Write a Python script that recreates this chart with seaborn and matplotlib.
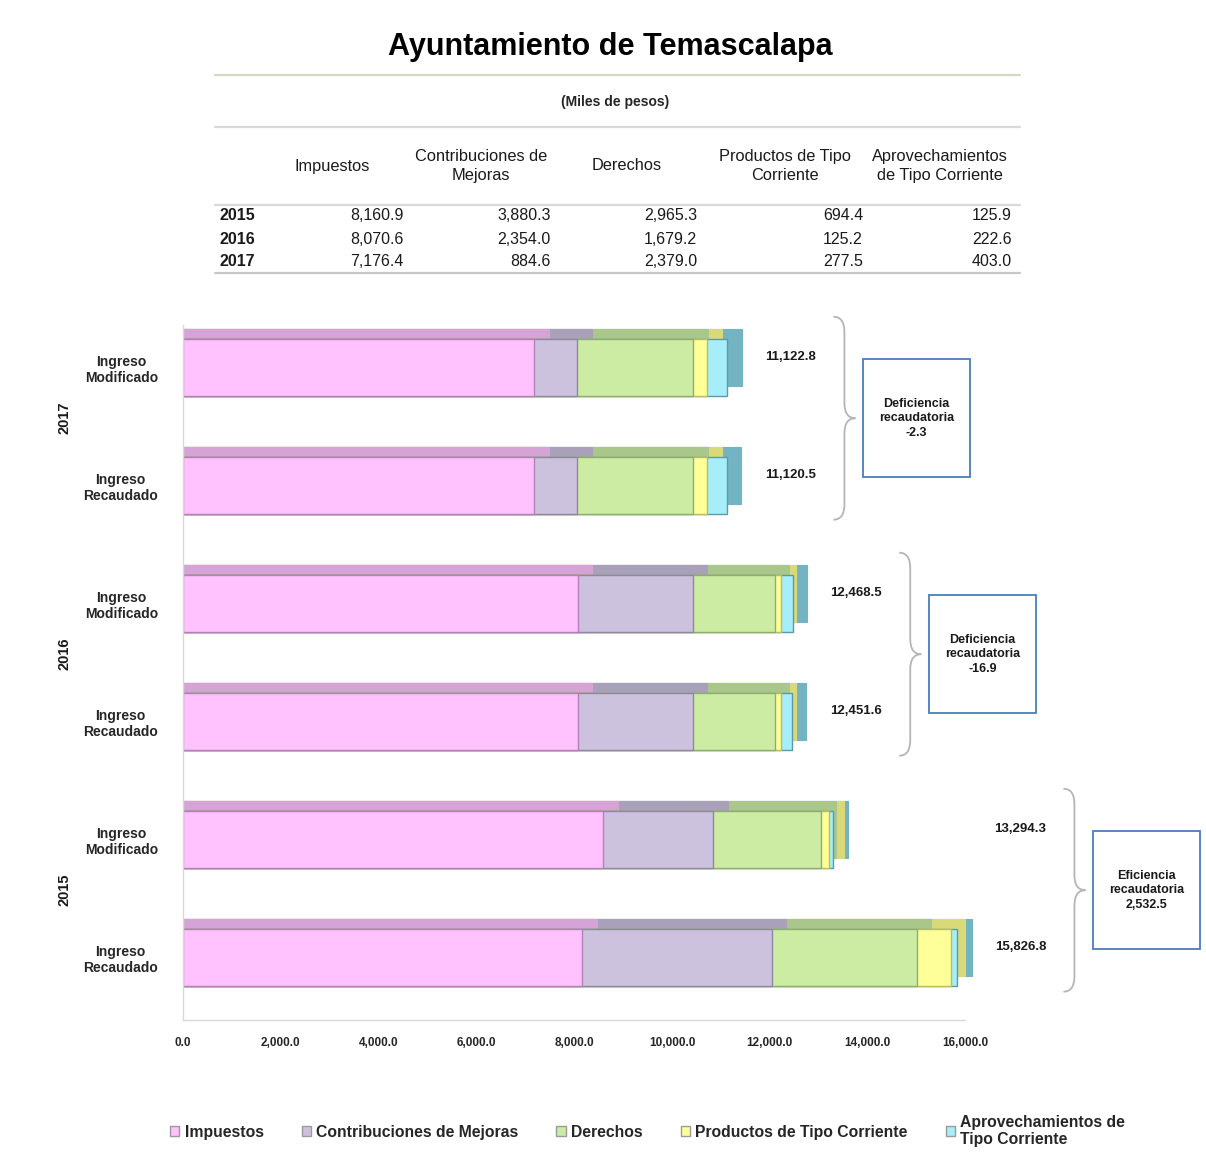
import numpy as np
import pandas as pd
import seaborn as sns
import matplotlib.pyplot as plt
from matplotlib.patches import Patch, Rectangle, PathPatch
from matplotlib.path import Path

# Data
conceptos = ['Impuestos', 'Contribuciones de Mejoras', 'Derechos',
             'Productos de Tipo Corriente', 'Aprovechamientos de Tipo Corriente']
encabezados = ['Impuestos', 'Contribuciones de\nMejoras', 'Derechos',
               'Productos de Tipo\nCorriente', 'Aprovechamientos\nde Tipo Corriente']
legend_labels = ['Impuestos', 'Contribuciones de Mejoras', 'Derechos',
                 'Productos de Tipo Corriente', 'Aprovechamientos de\nTipo Corriente']
anios = ['2015', '2016', '2017']

# ingreso recaudado (table values)
rec_2015 = [8160.9, 3880.3, 2965.3, 694.4, 125.9]
rec_2016 = [8070.6, 2354.0, 1679.2, 125.2, 222.6]
rec_2017 = [7176.4, 884.6, 2379.0, 277.5, 403.0]
# ingreso modificado
mod_2015 = [8590.0, 2250.0, 2210.0, 160.0, 84.3]
mod_2016 = [8070.6, 2354.0, 1679.2, 125.2, 239.5]
mod_2017 = [7176.4, 884.6, 2379.0, 277.5, 405.3]

front_colors = ['#FFC2FF', '#CDC2DD', '#CCEBA3', '#FFFF99', '#A6EEFA']
top_colors = ['#D6A3D6', '#A9A1BA', '#A9C78A', '#D9D97A', '#73B3C2']
edge_colors = ['#B77FB7', '#8F88A0', '#8FAE6E', '#BDBD5C', '#5A9AAA']

# rows from top to bottom
filas = [('2017', 'Ingreso\nModificado', mod_2017), ('2017', 'Ingreso\nRecaudado', rec_2017),
         ('2016', 'Ingreso\nModificado', mod_2016), ('2016', 'Ingreso\nRecaudado', rec_2016),
         ('2015', 'Ingreso\nModificado', mod_2015), ('2015', 'Ingreso\nRecaudado', rec_2015)]
df = pd.DataFrame([[a, t] + v for a, t, v in filas], columns=['anio', 'tipo'] + conceptos)
df['pos'] = np.arange(len(df), dtype=float)
cum = df[conceptos].cumsum(axis=1).to_numpy()
df['total'] = cum[:, -1]

sns.set_theme(style='white')
plt.rcParams['font.family'] = ['Liberation Sans', 'DejaVu Sans']

W, H = 1206, 1156
fig = plt.figure(figsize=(W / 100, H / 100), dpi=100)


def fx(px):
    return px / W


def fy(py):
    return 1 - py / H


# title and table
fig.text(fx(610), fy(47), 'Ayuntamiento de Temascalapa', ha='center', va='center',
         fontsize=22, fontweight='bold', color='black')
fig.text(fx(615), fy(102), '(Miles de pesos)', ha='center', va='center', fontsize=10, fontweight='bold')
for py, c in [(75, '#D6D6C2'), (127, '#D9D9D9'), (205, '#D9D9D9'), (273, '#C8C8C8')]:
    fig.add_artist(plt.Line2D([fx(215), fx(1020)], [fy(py)] * 2, color=c, lw=1.6))

head_x = [332, 481, 627, 785, 940]
val_x = [404, 551, 697, 863, 1012]
for hx, h in zip(head_x, encabezados):
    fig.text(fx(hx), fy(166), h, ha='center', va='center', fontsize=11.8,
             linespacing=1.35, color='#1a1a1a')
tabla = {'2015': rec_2015, '2016': rec_2016, '2017': rec_2017}
for i, a in enumerate(anios):
    py = 216 + 23 * i
    fig.text(fx(220), fy(py), a, ha='left', va='center', fontsize=11.5, fontweight='bold', color='#1a1a1a')
    for vx, v in zip(val_x, tabla[a]):
        fig.text(fx(vx), fy(py), f'{v:,.1f}', ha='right', va='center', fontsize=11.5, color='#1a1a1a')

# chart
ax = fig.add_axes([fx(183), 1 - 1020 / H, (1200 - 183) / W, 695 / H])
dx, dy, bw = 300, 0.085, 0.49
for k in reversed(range(5)):
    sns.barplot(x=cum[:, k] + dx, y=df['pos'] - dy, orient='y', native_scale=True,
                color=top_colors[k], saturation=1, width=bw, errorbar=None,
                edgecolor=top_colors[k], linewidth=0.8, ax=ax)
for k in reversed(range(5)):
    sns.barplot(x=cum[:, k], y=df['pos'], orient='y', native_scale=True,
                color=front_colors[k], saturation=1, width=bw, errorbar=None,
                edgecolor=edge_colors[k], linewidth=1.0, ax=ax)

ax.set_xlim(0, 20800)
ax.set_ylim(5.53, -0.36)
ax.set_xlabel('')
ax.set_ylabel('')
ticks = np.arange(0, 16001, 2000)
ax.set_xticks(ticks, [f'{t:,.1f}' for t in ticks])
ax.set_yticks(df['pos'], df['tipo'])
ax.tick_params(axis='x', length=0, pad=12, labelsize=8.5)
ax.tick_params(axis='y', length=0, pad=18, labelsize=10)
for t in ax.get_xticklabels():
    t.set_fontweight('bold')
for t in ax.get_yticklabels():
    t.set_fontweight('bold')
    t.set_multialignment('center')
for s in ['top', 'right']:
    ax.spines[s].set_visible(False)
for s in ['left', 'bottom']:
    ax.spines[s].set_color('#D9D9D9')
    ax.spines[s].set_linewidth(1)
ax.spines['bottom'].set_bounds(0, 16000)


def brace(x0, y0, y1, w=450, r=0.13, color='#B5B5B5'):
    ym = (y0 + y1) / 2
    xm = x0 + w / 2
    verts = [(x0, y0), (xm, y0), (xm, y0 + r),
             (xm, ym - r), (xm, ym), (x0 + w, ym),
             (xm, ym), (xm, ym + r),
             (xm, y1 - r), (xm, y1), (x0, y1)]
    codes = [Path.MOVETO, Path.CURVE3, Path.CURVE3,
             Path.LINETO, Path.CURVE3, Path.CURVE3,
             Path.CURVE3, Path.CURVE3,
             Path.LINETO, Path.CURVE3, Path.CURVE3]
    ax.add_patch(PathPatch(Path(verts, codes), fill=False, edgecolor=color, lw=1.3, clip_on=False))


for a in ['2017', '2016', '2015']:
    g = df[df['anio'] == a]
    p0, p1 = g['pos'].min(), g['pos'].max()
    lx = g['total'].max() + 1300
    for _, row in g.iterrows():
        ax.text(lx, row['pos'] - 0.09, f"{row['total']:,.1f}", ha='center', va='center',
                fontsize=9.5, fontweight='bold', color='#1a1a1a')
    ym = (p0 + p1) / 2 - 0.07
    bx = lx + 880
    brace(bx, p0 - 0.43, p1 + 0.29)
    diff = g['total'].iloc[1] - g['total'].iloc[0]
    etiqueta = 'Eficiencia' if diff > 0 else 'Deficiencia'
    box_x = bx + 600
    ax.add_patch(Rectangle((box_x, ym - 0.5), 2200, 1.0, facecolor='white',
                           edgecolor='#4A7EBB', lw=1.3, clip_on=False))
    ax.text(box_x + 1100, ym, f'{etiqueta}\nrecaudatoria\n{diff:,.1f}', ha='center', va='center',
            fontsize=9, fontweight='bold', linespacing=1.3, color='#1a1a1a')
    ax.text(-0.117, ym, a, transform=ax.get_yaxis_transform(), rotation=90,
            ha='center', va='center', fontsize=10.5, fontweight='bold', color='#1a1a1a')

handles = [Patch(facecolor=c, edgecolor='#9A9A9A') for c in front_colors]
fig.legend(handles, legend_labels, ncol=5, loc='center', bbox_to_anchor=(0.537, fy(1131)),
           frameon=False, prop={'weight': 'bold', 'size': 11.3}, handlelength=0.6, handleheight=0.6,
           handletextpad=0.35, columnspacing=2.4)

fig.savefig('out.png', dpi=100)
